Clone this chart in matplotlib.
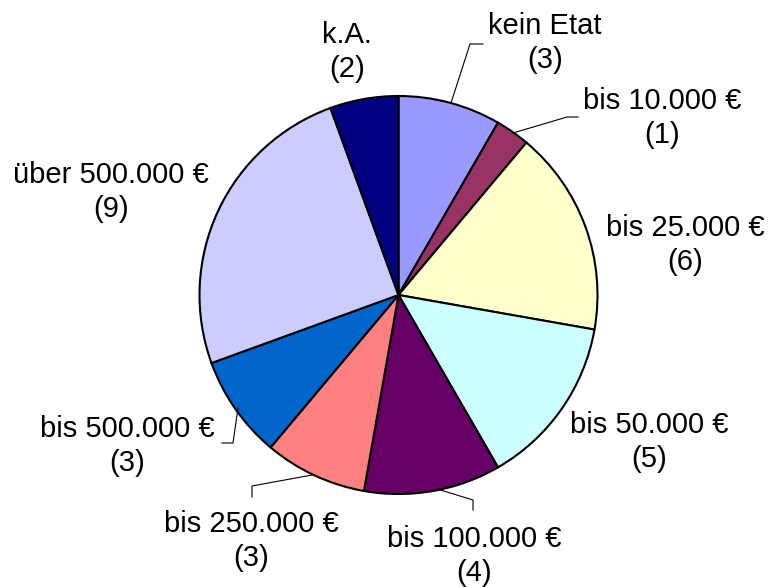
import matplotlib
matplotlib.use("Agg")
import matplotlib.pyplot as plt

categories = ["kein Etat", "bis 10.000 €", "bis 25.000 €", "bis 50.000 €",
              "bis 100.000 €", "bis 250.000 €", "bis 500.000 €",
              "über 500.000 €", "k.A."]
values = [3, 1, 6, 5, 4, 3, 3, 9, 2]
colors = ["#9999FF", "#993366", "#FFFFCC", "#CCFFFF", "#660066",
          "#FF8080", "#0066CC", "#CCCCFF", "#000080"]

W, H = 776, 587
fig = plt.figure(figsize=(W / 100, H / 100), dpi=100)
ax = fig.add_axes([0, 0, 1, 1])
ax.set_xlim(0, W)
ax.set_ylim(0, H)
ax.set_aspect("equal")
ax.axis("off")

def Y(py):
    return H - py

cx, cy, r = 398.5, 295, 199
ax.pie(values, colors=colors, startangle=90, counterclock=False,
       center=(cx, Y(cy)), radius=r,
       wedgeprops=dict(edgecolor="black", linewidth=1.5))
ax.set_xlim(0, W)
ax.set_ylim(0, H)

# label positions (pixel coords of text centre)
label_pos = [(545, 43), (662, 118), (685, 245), (649, 442), (474, 556),
             (251, 541), (127, 446), (111, 192), (347, 52)]
for cat, v, (px, py) in zip(categories, values, label_pos):
    ax.text(px, Y(py), f"{cat}\n({v})", ha="center", va="center",
            fontsize=21, family="Liberation Sans", linespacing=1.24)

# leader lines (pixel coords)
leaders = [
    [(451, 103), (470, 44), (483, 44)],
    [(513, 133), (567, 117), (578, 117)],
    [(238, 408), (233, 443), (222, 443)],
    [(312, 475), (252, 486), (252, 497)],
    [(437, 489), (473, 500), (473, 510)],
]
for pts in leaders:
    xs = [p[0] for p in pts]
    ys = [Y(p[1]) for p in pts]
    ax.plot(xs, ys, color="black", linewidth=0.8)

fig.savefig("out.png", dpi=100)
